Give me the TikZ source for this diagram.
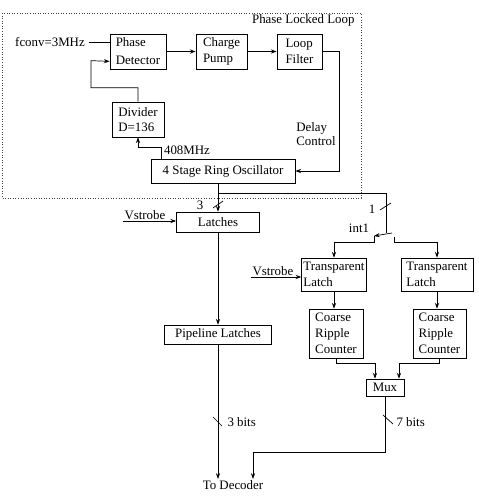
\documentclass[tikz,border=0pt]{standalone}
\usepackage{fontspec}
\setmainfont{Liberation Serif}
\usetikzlibrary{arrows.meta,calc}

\begin{document}
\begin{tikzpicture}[x=0.03cm,y=-0.03cm,
		font=\fontsize{11}{13.5}\selectfont,
		line width=0.6pt,
		>={Stealth[length=5pt,width=3.6pt,inset=1.8pt]},
		box/.style={draw,inner sep=1.5pt,align=left},
		lbl/.style={inner sep=1pt}]
		% Frame and loop boundary
		\useasboundingbox (0,0) rectangle (479,504);
		\draw[black!75,dash pattern=on 0.6pt off 1.6pt] (2,13) rectangle (361,198);
		\node[lbl,anchor=east] (pll) at (356,20) {Phase Locked Loop};
		% Blocks
		\node[box,minimum width=1.68cm,minimum height=1.05cm] (pd) at (138,51.5) {Phase\\[2pt]Detector};
		\node[box,minimum width=1.53cm,minimum height=1.05cm] (cp) at (221.5,51.5) {Charge\\Pump};
		\node[box,minimum width=1.35cm,minimum height=1.05cm] (lf) at (299.5,51.5) {Loop\\Filter};
		\node[box,minimum width=1.56cm,minimum height=1.05cm] (div) at (138,119.5) {Divider\\D=136};
		\node[box,minimum width=4.32cm,minimum height=0.72cm,align=center] (osc) at (223,171) {4 Stage Ring Oscillator};
		\node[box,minimum width=2.49cm,minimum height=0.6cm,align=center] (lat) at (218,222) {Latches};
		\node[box,minimum width=3.21cm,minimum height=0.57cm,align=center] (pip) at (218,334.5) {Pipeline Latches};
		\node[box,minimum width=1.92cm,minimum height=0.99cm] (tl1) at (334,274.5) {Transparent\\Latch};
		\node[box,minimum width=2.16cm,minimum height=0.99cm] (tl2) at (437,274.5) {Transparent\\Latch};
		\node[box,minimum width=1.62cm,minimum height=1.47cm] (crc1) at (336,333.5) {Coarse\\Ripple\\Counter};
		\node[box,minimum width=1.59cm,minimum height=1.47cm] (crc2) at (439.5,333.5) {Coarse\\Ripple\\Counter};
		\node[box,minimum width=1.14cm,minimum height=0.51cm,align=center] (mux) at (385,387.5) {Mux};
		% Labels
		\node[lbl] (fin) at (50,42) {fconv=3MHz};
		\node[lbl] (fout) at (187,150) {408MHz};
		\node[lbl,align=left,font=\fontsize{11}{12}\selectfont] (dly) at (316,134) {Delay\\Control};
		\node[lbl,anchor=south west] (vs1) at (123,221) {Vstrobe};
		\node[lbl,anchor=south west] (vs2) at (251,277) {Vstrobe};
		\node[lbl] (n3) at (200,205) {3};
		\node[lbl] (n1) at (372,209) {1};
		\node[lbl] (int) at (359,228) {int1};
		\node[lbl,anchor=west] (b3) at (226,422) {3 bits};
		\node[lbl,anchor=west] (b7) at (395,422) {7 bits};
		\node[lbl] (dec) at (233,485) {To Decoder};
		\coordinate (tap) at (218,193);
		\coordinate (sw) at (386,233);
		\coordinate (swl) at (374,236);
		\coordinate (swr) at (394,237);
		% Loop connections
		\draw ([xshift=2pt]fin.east) -- (fin.east -| pd.west);
		\draw[->] (pd.east) -- (cp.west);
		\draw[->] (cp.east) -- (lf.west);
		\draw[->] (lf.east) -- ++(17,0) |- (osc.east);
		\draw[->] ([xshift=9.4pt]osc.north west) -- ++(0,-11) -| (div.south);
		\draw[->] (div.north) -- ++(0,-14) -| ++(-47,-27) -- ([yshift=6.8pt]pd.south west);
		% Outputs
		\draw[->] (osc.south -| lat.north) -- (lat.north);
		\draw (tap) -| (sw);
		\draw[->] ($(sw)+(6,0)$) -- (swl);
		\draw[->] (swl) -- ++(0,6) -| (tl1.north);
		\draw[->] (swr) -- ++(0,5) -| (tl2.north);
		\draw[->] (vs1.south west) -- (vs1.south west -| lat.west);
		\draw[->] (vs2.south west) -- (vs2.south west -| tl1.west);
		\draw[->] (lat.south) -- (pip.north);
		\draw[->] (tl1.south) -- (tl1.south |- crc1.north);
		\draw[->] (tl2.south) -- (tl2.south |- crc2.north);
		\draw[->] (crc1.south) -- ++(0,5) -| ($(mux.north)+(-10,0)$);
		\draw[->] (crc2.south) -- ++(0,5) -| ($(mux.north)+(14,0)$);
		\draw[->] (pip.south) -- (pip.south |- dec.north);
		\draw[->] (mux.south) -- ++(0,56) -| ($(dec.north)+(20,0)$);
		% Bus marks
		\draw (213,208) -- ++(10,-7);
		\draw (380,210) -- ++(11,-7);
		\draw (213,417) -- ++(9,9);
		\draw (383,415) -- ++(10,9);
	\end{tikzpicture}
\end{document}
